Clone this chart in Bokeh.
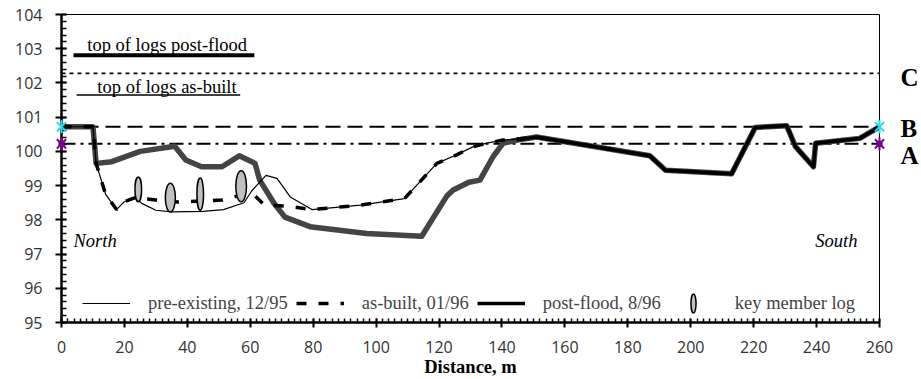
import math
from bokeh.plotting import figure
from bokeh.models import (Range1d, SingleIntervalTicker, FixedTicker, Span, Label, Legend,
                          LegendItem, LinearAxis)
from bokeh.embed import file_html
from bokeh.resources import INLINE

# ---------------- data ----------------
pre_x = [0, 10, 11, 14, 17.5, 20, 23.5, 25.5, 30, 35, 45, 51.5, 58, 60.5, 65, 68.5, 72.7,
         79.6, 95, 109, 119.3, 125.6, 130.9, 135.1, 140.4, 144.7, 151,
         187, 192, 213, 220.5, 230.5, 233.3, 239, 239.7, 253.7, 260]
pre_y = [100.72, 100.72, 99.65, 98.75, 98.3, 98.53, 98.65, 98.48, 98.28, 98.23, 98.25, 98.3,
         98.5, 98.85, 99.3, 99.21, 98.67, 98.3, 98.43, 98.62, 99.65, 99.9, 100.14, 100.24,
         100.33, 100.36, 100.42, 99.87, 99.45, 99.35, 100.7, 100.75, 100.14, 99.55, 100.24,
         100.38, 100.72]

built_x = [0, 10, 11, 14, 17.5, 20, 23.5, 30, 37, 45, 51, 57, 61, 64.5, 72, 79.6, 95, 109,
           119.3, 125.6, 130.9, 135.1, 140.4, 144.7, 151,
           187, 192, 213, 220.5, 230.5, 233.3, 239, 239.7, 253.7, 260]
built_y = [100.72, 100.72, 99.65, 98.75, 98.3, 98.53, 98.65, 98.58, 98.52, 98.55, 98.58,
           98.72, 98.75, 98.43, 98.4, 98.3, 98.43, 98.62, 99.65, 99.9, 100.14, 100.24,
           100.33, 100.36, 100.42, 99.87, 99.45, 99.35, 100.7, 100.75, 100.14, 99.55,
           100.24, 100.38, 100.72]

post_x = [0, 10, 11, 16, 25, 36, 39.5, 44.5, 51, 56.5, 61.5, 63, 67.5, 71, 79, 97, 114.5,
          122.5, 124.5, 129.5, 133, 137.2, 140.4, 144.7, 151,
          187, 192, 213, 220.5, 230.5, 233.3, 239, 239.7, 253.7, 260]
post_y = [100.72, 100.72, 99.65, 99.7, 100.0, 100.15, 99.75, 99.55, 99.55, 99.87, 99.65,
          99.16, 98.49, 98.08, 97.8, 97.6, 97.52, 98.7, 98.87, 99.1, 99.16, 99.85, 100.24,
          100.33, 100.42, 99.87, 99.45, 99.35, 100.7, 100.75, 100.14, 99.55, 100.24,
          100.38, 100.72]
common_from = 144.7   # beyond this distance all three profiles coincide

log_x = [24.4, 34.6, 44.1, 57.1]
log_y = [98.89, 98.65, 98.75, 98.98]
log_w = [2.1, 3.2, 2.1, 3.4]
log_h = [0.73, 0.84, 0.94, 0.91]

level_names = ["C", "B", "A"]
level_values = [102.28, 100.72, 100.22]
level_A = level_values[2]
level_B = level_values[1]
level_C = level_values[0]
end_x = [0, 260]

top_post_x = [3.8, 61.3]
top_post_y = [102.81, 102.81]
top_built_x = [4.8, 56.8]
top_built_y = [101.65, 101.65]

x_ticks_interval = 20
y_ticks_interval = 1

# ---------------- figure ----------------
p = figure(width=921, height=379, output_backend="svg", toolbar_location=None,
           x_range=Range1d(0, 260), y_range=Range1d(95, 104),
           min_border_left=61, min_border_right=41, min_border_top=14, min_border_bottom=57)
p.grid.visible = False
p.outline_line_color = "black"
p.outline_line_width = 1
p.background_fill_color = "white"

SERIF = "Liberation Serif"

for ax in (p.xaxis[0], p.yaxis[0]):
    ax.axis_line_width = 2.5
    ax.axis_line_color = "black"
    ax.major_tick_line_width = 2
    ax.minor_tick_line_width = 1.5
    ax.major_tick_line_color = "black"
    ax.minor_tick_line_color = "black"
    ax.major_label_text_font = "Open Sans"
    ax.major_label_text_font_size = "16px"
    ax.major_label_text_color = "#333333"

xa = p.xaxis[0]
xa.ticker = SingleIntervalTicker(interval=x_ticks_interval, num_minor_ticks=10)
xa.major_tick_out = 5
xa.major_tick_in = 4
xa.minor_tick_in = 4
xa.minor_tick_out = 0
xa.major_label_standoff = 13
xa.axis_label = "Distance, m"
xa.axis_label_text_font = SERIF
xa.axis_label_text_font_style = "bold"
xa.axis_label_text_font_size = "18.5px"
xa.axis_label_text_color = "black"
xa.axis_label_standoff = 1

ya = p.yaxis[0]
ya.ticker = SingleIntervalTicker(interval=y_ticks_interval, num_minor_ticks=5)
ya.major_tick_out = 6
ya.major_tick_in = 5
ya.minor_tick_in = 5
ya.minor_tick_out = 0
ya.major_label_standoff = 13

# right-hand level names (C, B, A) as an axis of their own
label_shift = [-0.12, -0.06, -0.33]   # slight downward nudge of each name, in metres
name_pos = [round(v + s, 2) for v, s in zip(level_values, label_shift)]
ra = LinearAxis(ticker=FixedTicker(ticks=name_pos),
                major_label_overrides={pos: n for pos, n in zip(name_pos, level_names)},
                axis_line_color=None, major_tick_line_color=None, minor_tick_line_color=None,
                major_label_standoff=15, major_label_text_font=SERIF,
                major_label_text_font_style="bold", major_label_text_font_size="25px",
                major_label_text_color="black")
p.add_layout(ra, "right")

# reference levels
p.add_layout(Span(location=level_C, dimension="width", line_color="black", line_width=1.8,
                  line_dash="4 4", level="underlay"))
p.add_layout(Span(location=level_B, dimension="width", line_color="black", line_width=2,
                  line_dash="15 7", level="underlay"))
p.add_layout(Span(location=level_A, dimension="width", line_color="black", line_width=2,
                  line_dash="14 5 3 5", level="underlay"))

# profiles
p.line(post_x, post_y, line_color="#444444", line_width=5.5, line_join="round")
r_pre = p.line(pre_x, pre_y, line_color="black", line_width=1.2)
r_built = p.line(built_x, built_y, line_color="black", line_width=3.5, line_dash="10 12")
k = post_x.index(common_from)
r_post = p.line(post_x[k:], post_y[k:], line_color="black", line_width=3.5, line_join="round")

# key member logs
r_logs = p.ellipse(x=log_x, y=log_y, width=log_w, height=log_h, fill_color="#c0c0c0",
                   line_color="black", line_width=1.5)

# top-of-logs indicator lines
p.line(top_post_x, top_post_y, line_color="black", line_width=4)
p.line(top_built_x, top_built_y, line_color="black", line_width=1.5)

# end markers (drawn at overlay level)
p.scatter(end_x, [level_A, level_A], marker="square", size=5, fill_color="blue",
          line_color="blue", level="overlay")
for yv, col in ((level_A, "purple"), (level_B, "#22ddee")):
    p.scatter(end_x, [yv, yv], marker="x", size=13, line_color=col, line_width=2,
              level="overlay")
    p.scatter(end_x, [yv, yv], marker="dash", angle=math.pi / 2, size=13, line_color=col,
              line_width=2, level="overlay")

# text
def lab(**kw):
    base = dict(text_font=SERIF, text_font_size="18.5px", text_color="black",
                text_baseline="bottom")
    base.update(kw)
    p.add_layout(Label(**base))

lab(x=top_post_x[0] + 4.4, y=top_post_y[0], y_offset=0, text="top of logs post-flood")
lab(x=top_built_x[0] + 6.6, y=top_built_y[0], y_offset=-2, text="top of logs as-built")
lab(x=3.8, y=97.37, text="North", text_font_style="italic", text_baseline="middle")
lab(x=253, y=97.37, text="South", text_font_style="italic", text_align="right",
    text_baseline="middle")

legend = Legend(items=[
    LegendItem(label="pre-existing, 12/95", renderers=[r_pre]),
    LegendItem(label="as-built, 01/96", renderers=[r_built]),
    LegendItem(label="post-flood, 8/96", renderers=[r_post]),
    LegendItem(label="key member log", renderers=[r_logs]),
], orientation="horizontal", location=(21, 7), label_text_font=SERIF,
    label_text_font_size="18.5px", glyph_width=48, glyph_height=24, label_standoff=18,
    spacing=8, padding=0, margin=0, border_line_color=None, background_fill_alpha=0)
p.add_layout(legend)

open("out.html", "w").write(file_html(p, INLINE))
